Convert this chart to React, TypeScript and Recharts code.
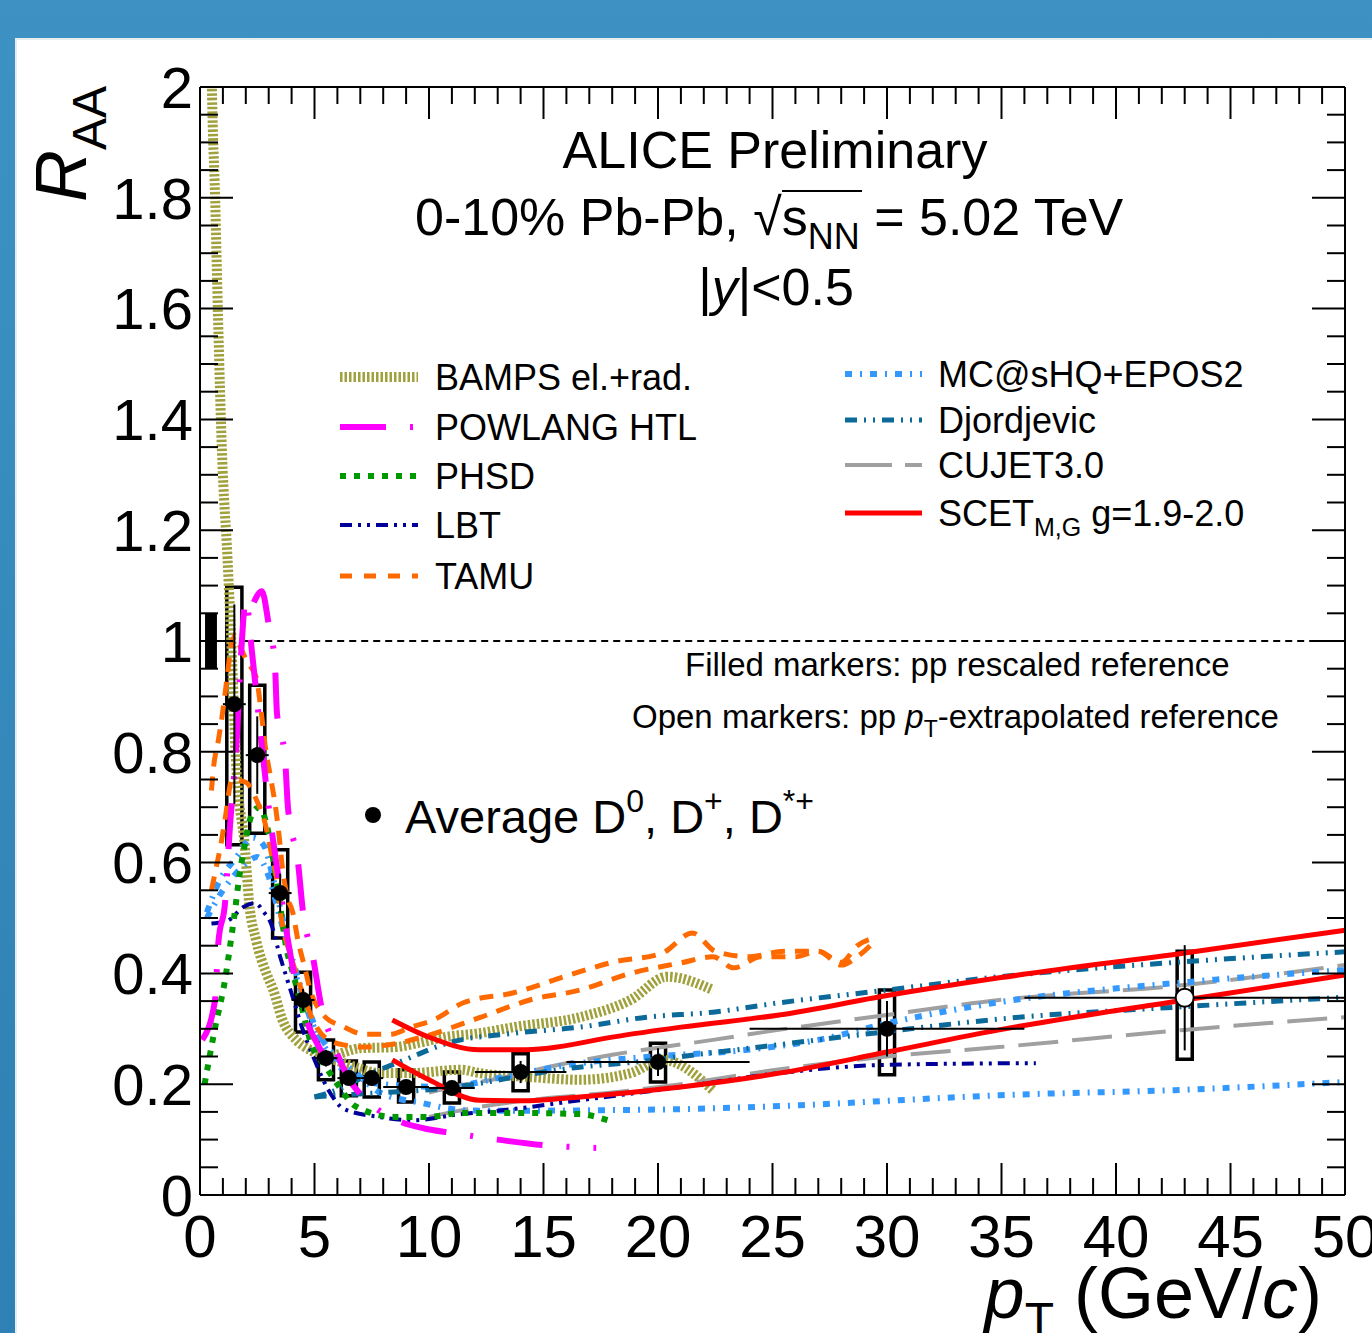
import React from 'react';
import {
  ComposedChart, Line, Scatter, XAxis, YAxis, ErrorBar, ReferenceArea, ReferenceLine,
} from 'recharts';

// pT (GeV/c) , R_AA pairs
type P = [number, number];

const bampsUpper: P[] = [[0.45, 2.2], [0.52, 2.0], [0.66, 1.8], [0.79, 1.58], [0.96, 1.34], [1.2, 1.15], [1.4, 0.966], [1.57, 0.785], [1.97, 0.623], [2.14, 0.53], [2.45, 0.46], [2.9, 0.4], [3.2, 0.37], [3.6, 0.316], [4.2, 0.28], [4.8, 0.262], [5.5, 0.25], [7, 0.265], [8.5, 0.267], [9.6, 0.275], [10.7, 0.285], [12.2, 0.292], [13.7, 0.303], [16.6, 0.321], [18.8, 0.352], [20.4, 0.394], [22.4, 0.37]];
const bampsLower: P[] = [[5.5, 0.25], [6.5, 0.235], [7.9, 0.22], [9.2, 0.22], [11.4, 0.226], [12.2, 0.22], [14.4, 0.213], [16.6, 0.208], [18.8, 0.22], [20.2, 0.244], [22.4, 0.189]];
const powlangA: P[] = [[0.1, 0.28], [0.65, 0.35], [0.8, 0.455], [1.1, 0.53], [1.3, 0.66], [1.6, 0.82], [1.8, 0.98], [2.0, 1.075], [2.27, 0.98], [2.6, 0.85], [3.0, 0.7], [3.4, 0.58], [3.8, 0.47], [4.2, 0.38], [4.7, 0.31], [5.3, 0.26], [6.0, 0.22]];
const powlangB: P[] = [[2.35, 1.07], [2.7, 1.09], [3.0, 1.03], [3.27, 0.96], [3.36, 0.87], [3.71, 0.79], [3.84, 0.7], [4.28, 0.6], [4.5, 0.51], [4.93, 0.43], [5.3, 0.34], [5.76, 0.28], [6.5, 0.21], [7.3, 0.17], [8.6, 0.135], [9.8, 0.12], [11, 0.112], [13, 0.1], [15, 0.09], [17.3, 0.085]];
const phsd: P[] = [[0.2, 0.2], [0.65, 0.3], [1.1, 0.39], [1.35, 0.46], [1.55, 0.52], [1.7, 0.57], [1.9, 0.62], [2.3, 0.69], [2.6, 0.7], [2.9, 0.67], [3.3, 0.58], [3.8, 0.44], [4.06, 0.4], [4.5, 0.33], [4.8, 0.28], [5.5, 0.231], [6.0, 0.2], [6.8, 0.16], [8.5, 0.141], [10, 0.141], [11.4, 0.148], [14, 0.148], [16.6, 0.146], [17.8, 0.135]];
const lbt: P[] = [[0.5, 0.49], [1.2, 0.495], [1.9, 0.52], [2.4, 0.527], [2.8, 0.51], [3.1, 0.49], [3.5, 0.43], [3.8, 0.39], [4.05, 0.357], [4.45, 0.303], [4.95, 0.249], [5.6, 0.19], [6.3, 0.155], [7.8, 0.141], [9.3, 0.135], [11.4, 0.146], [13, 0.152], [16.6, 0.171], [21, 0.195], [25.3, 0.22], [30, 0.235], [36.5, 0.238]];
const tamuUpper: P[] = [[0.5, 0.73], [0.6, 0.775], [0.8, 0.82], [1.0, 0.875], [1.2, 0.94], [1.35, 0.99], [1.55, 1.01], [1.75, 0.99], [2.1, 0.96], [2.45, 0.935], [2.65, 0.88], [2.85, 0.81], [3.1, 0.75], [3.3, 0.7], [3.45, 0.65], [3.6, 0.59], [3.8, 0.54], [4.05, 0.51], [4.3, 0.455], [4.55, 0.415], [4.85, 0.365], [5.2, 0.335], [5.5, 0.32], [6.2, 0.305], [7.2, 0.29], [8.3, 0.29], [9.2, 0.303], [10.2, 0.316], [11.5, 0.347], [13.7, 0.365], [15.9, 0.394], [18, 0.42], [20.2, 0.437], [21.5, 0.473], [22.5, 0.44], [24, 0.43], [25.5, 0.44], [27, 0.44], [28, 0.415], [28.7, 0.43], [29.5, 0.46]];
const tamuLower: P[] = [[0.5, 0.55], [0.7, 0.59], [0.9, 0.63], [1.1, 0.68], [1.4, 0.75], [2.0, 0.745], [2.5, 0.71], [2.85, 0.67], [3.1, 0.62], [3.35, 0.57], [3.55, 0.5], [3.9, 0.44], [4.2, 0.4], [4.6, 0.35], [5.0, 0.31], [5.6, 0.28], [6.4, 0.27], [7.1, 0.267], [8.4, 0.272], [9.7, 0.285], [12.2, 0.32], [14.4, 0.352], [16.6, 0.37], [18.8, 0.4], [21, 0.419], [22.4, 0.43], [23.3, 0.41], [24.5, 0.43], [26, 0.43], [27, 0.44], [28, 0.42], [28.7, 0.45], [29.5, 0.465]];
const mcshqUpper: P[] = [[0.3, 0.51], [0.8, 0.563], [1.6, 0.61], [2.3, 0.645], [2.8, 0.63], [3.2, 0.57], [3.6, 0.5], [4.0, 0.42], [4.4, 0.37], [4.9, 0.31], [5.4, 0.27], [6.0, 0.235], [6.8, 0.215], [7.9, 0.2], [10.8, 0.195], [13, 0.211], [16.6, 0.238], [19.5, 0.249], [23.9, 0.262], [27, 0.28], [30, 0.31], [34.9, 0.348], [43, 0.384], [50, 0.406]];
const mcshqLower: P[] = [[0.3, 0.5], [1.0, 0.55], [1.8, 0.59], [2.5, 0.61], [3.0, 0.575], [3.5, 0.5], [4.0, 0.43], [4.6, 0.35], [5.2, 0.29], [5.8, 0.255], [6.8, 0.22], [7.9, 0.184], [9.7, 0.166], [11.5, 0.153], [13, 0.152], [17.5, 0.153], [21, 0.155], [26.2, 0.162], [30, 0.17], [34.9, 0.18], [43, 0.19], [50, 0.204]];
const djordjevicUpper: P[] = [[5, 0.177], [6, 0.19], [7.5, 0.22], [9, 0.245], [10.8, 0.274], [13.7, 0.292], [16.6, 0.303], [19.5, 0.321], [22.4, 0.33], [25.3, 0.347], [30, 0.37], [34.9, 0.394], [43, 0.421], [50, 0.439]];
const djordjevicLower: P[] = [[5, 0.177], [6, 0.18], [8, 0.185], [10, 0.19], [12, 0.2], [14, 0.215], [16, 0.228], [19, 0.24], [22, 0.255], [25, 0.27], [30, 0.295], [35, 0.318], [43, 0.34], [50, 0.357]];
const cujetUpper: P[] = [[10, 0.185], [11, 0.195], [13, 0.21], [15.2, 0.231], [18, 0.253], [22.4, 0.28], [24.6, 0.294], [30, 0.325], [34.9, 0.352], [43, 0.379], [50, 0.415]];
const cujetLower: P[] = [[10, 0.141], [12.2, 0.159], [15.2, 0.175], [18, 0.185], [21, 0.2], [25, 0.225], [30, 0.25], [34.9, 0.267], [43, 0.298], [50, 0.321]];
const scetUpper: P[] = [[8.4, 0.316], [10, 0.285], [12.2, 0.262], [14, 0.262], [15.2, 0.265], [18, 0.285], [21, 0.303], [25.3, 0.325], [30, 0.36], [34.9, 0.392], [43, 0.437], [50, 0.478]];
const scetLower: P[] = [[8.4, 0.244], [10, 0.208], [12.2, 0.171], [14, 0.17], [16.6, 0.177], [21, 0.195], [25.3, 0.22], [30, 0.258], [34.9, 0.298], [43, 0.352], [50, 0.397]];

// average D-meson R_AA
const ptCenters = [1.5, 2.5, 3.5, 4.5, 5.5, 6.5, 7.5, 9, 11, 14, 20, 30, 43];
const ptHalfWidth = [0.5, 0.5, 0.5, 0.5, 0.5, 0.5, 0.5, 1, 1, 2, 4, 6, 7];
const raaValues = [0.886, 0.794, 0.545, 0.352, 0.247, 0.211, 0.211, 0.195, 0.193, 0.222, 0.24, 0.3, 0.356];
const statErr = [0.18, 0.07, 0.035, 0.02, 0.015, 0.012, 0.012, 0.012, 0.012, 0.02, 0.025, 0.05, 0.095];
const sysLow = [0.632, 0.653, 0.464, 0.294, 0.208, 0.179, 0.177, 0.168, 0.166, 0.188, 0.204, 0.217, 0.245];
const sysHigh = [1.097, 0.92, 0.623, 0.402, 0.28, 0.242, 0.24, 0.226, 0.222, 0.255, 0.274, 0.37, 0.44];
const openMarker = [false, false, false, false, false, false, false, false, false, false, false, false, true];

const xMajorLabels = [0, 5, 10, 15, 20, 25, 30, 35, 40, 45, 50];
const yMajorLabels = ['0', '0.2', '0.4', '0.6', '0.8', '1', '1.2', '1.4', '1.6', '1.8', '2'];

const FONT = '"Liberation Sans", Arial, Helvetica, sans-serif';
const OLIVE = '#a0a03c';

const toRows = (pts: P[]) => pts.map(([x, y]) => ({ x, y }));

const models = [
  { id: 'bampsU', pts: bampsUpper, color: OLIVE, w: 10, dash: '2.5 2' },
  { id: 'bampsL', pts: bampsLower, color: OLIVE, w: 10, dash: '2.5 2' },
  { id: 'cujetU', pts: cujetUpper, color: '#a0a0a0', w: 4, dash: '40 14' },
  { id: 'cujetL', pts: cujetLower, color: '#a0a0a0', w: 4, dash: '40 14' },
  { id: 'mcU', pts: mcshqUpper, color: '#3399ff', w: 6, dash: '7 8 2 8' },
  { id: 'mcL', pts: mcshqLower, color: '#3399ff', w: 6, dash: '7 8 2 8' },
  { id: 'djU', pts: djordjevicUpper, color: '#0b6a9a', w: 5, dash: '12 7 2 7 2 7' },
  { id: 'djL', pts: djordjevicLower, color: '#0b6a9a', w: 5, dash: '12 7 2 7 2 7' },
  { id: 'lbt', pts: lbt, color: '#000099', w: 4, dash: '12 6 3 6 3 6' },
  { id: 'phsd', pts: phsd, color: '#009900', w: 6, dash: '6 8' },
  { id: 'tamuU', pts: tamuUpper, color: '#ff6a00', w: 5, dash: '14 10' },
  { id: 'tamuL', pts: tamuLower, color: '#ff6a00', w: 5, dash: '14 10' },
  { id: 'powA', pts: powlangA, color: '#ff00ff', w: 6, dash: '46 24 3 24' },
  { id: 'powB', pts: powlangB, color: '#ff00ff', w: 6, dash: '46 24 3 24' },
  { id: 'scetU', pts: scetUpper, color: '#ff0000', w: 5, dash: undefined },
  { id: 'scetL', pts: scetLower, color: '#ff0000', w: 5, dash: undefined },
];

const points = ptCenters.map((x, i) => ({ x, y: raaValues[i], ex: ptHalfWidth[i], ey: statErr[i] }));
const filledPts = points.filter((_, i) => !openMarker[i]);
const openPts = points.filter((_, i) => openMarker[i]);

const xTickValues = Array.from({ length: 51 }, (_, i) => i);
const yTickValues = Array.from({ length: 41 }, (_, i) => Math.round(i * 5) / 100);
const isMajorY = (v: number) => Math.round(v * 100) % 20 === 0;

const BottomTick = ({ x, y, payload }: any) => {
  const v = payload.value;
  const major = v % 5 === 0;
  return (
    <g>
      <line x1={x} x2={x} y1={y} y2={y - (major ? 32 : 17)} stroke="#000" strokeWidth={2} />
      {major && xMajorLabels.includes(v) && (
        <text x={x} y={y + 62} textAnchor="middle" fontSize={60} fontFamily={FONT} fill="#000">{v}</text>
      )}
    </g>
  );
};
const TopTick = ({ x, y, payload }: any) => (
  <line x1={x} x2={x} y1={y} y2={y + (payload.value % 5 === 0 ? 32 : 17)} stroke="#000" strokeWidth={2} />
);
const LeftTick = ({ x, y, payload }: any) => {
  const v = payload.value;
  const major = isMajorY(v);
  return (
    <g>
      <line x1={x} x2={x + (major ? 33 : 18)} y1={y} y2={y} stroke="#000" strokeWidth={2} />
      {major && (
        <text x={x - 7} y={y} dy="0.36em" textAnchor="end" fontSize={58} fontFamily={FONT} fill="#000">
          {yMajorLabels[Math.round(v * 5)]}
        </text>
      )}
    </g>
  );
};
const RightTick = ({ x, y, payload }: any) => (
  <line x1={x} x2={x - (isMajorY(payload.value) ? 33 : 18)} y1={y} y2={y} stroke="#000" strokeWidth={2} />
);

const legendLeft = [
  { label: 'BAMPS el.+rad.', color: OLIVE, w: 10, dash: '2.5 2', y: 377 },
  { label: 'POWLANG HTL', color: '#ff00ff', w: 6, dash: '46 24 3 24', y: 427 },
  { label: 'PHSD', color: '#009900', w: 6, dash: '6 8', y: 476 },
  { label: 'LBT', color: '#000099', w: 4, dash: '12 6 3 6 3 6', y: 525 },
  { label: 'TAMU', color: '#ff6a00', w: 5, dash: '12 12', y: 576 },
];
const legendRight = [
  { label: 'MC@sHQ+EPOS2', color: '#3399ff', w: 6, dash: '7 8 2 8', y: 374 },
  { label: 'Djordjevic', color: '#0b6a9a', w: 5, dash: '12 7 2 7 2 7', y: 420 },
  { label: 'CUJET3.0', color: '#a0a0a0', w: 4, dash: '47 13 17', y: 465 },
  { label: 'SCET', color: '#ff0000', w: 5, dash: undefined, y: 513 },
];

function Overlay() {
  return (
    <svg width={1372} height={1333} style={{ position: 'absolute', left: 0, top: 0, pointerEvents: 'none' }} fontFamily={FONT}>
      <text x={775} y={168} textAnchor="middle" fontSize={52}>ALICE Preliminary</text>
      <text x={415} y={235} fontSize={52}>
        0-10% Pb-Pb, √s<tspan fontSize={36} dy={14}>NN</tspan><tspan dy={-14}> = 5.02 TeV</tspan>
      </text>
      <line x1={782} x2={862} y1={191} y2={191} stroke="#000" strokeWidth={2} />
      <text x={776} y={305} textAnchor="middle" fontSize={52}>|<tspan fontStyle="italic">y</tspan>|&lt;0.5</text>

      {legendLeft.map((e) => (
        <g key={e.label}>
          <line x1={340} x2={418} y1={e.y} y2={e.y} stroke={e.color} strokeWidth={e.w} strokeDasharray={e.dash} />
          <text x={435} y={e.y + 13} fontSize={36}>{e.label}</text>
        </g>
      ))}
      {legendRight.map((e) => (
        <g key={e.label}>
          <line x1={845} x2={922} y1={e.y} y2={e.y} stroke={e.color} strokeWidth={e.w} strokeDasharray={e.dash} />
          <text x={938} y={e.y + 13} fontSize={36}>
            {e.label}
            {e.label === 'SCET' && (
              <>
                <tspan fontSize={25} dy={10}>M,G</tspan>
                <tspan dy={-10}> g=1.9-2.0</tspan>
              </>
            )}
          </text>
        </g>
      ))}

      <text x={685} y={676} fontSize={33}>Filled markers: pp rescaled reference</text>
      <text x={632} y={728} fontSize={33}>
        Open markers: pp <tspan fontStyle="italic">p</tspan><tspan fontSize={23} dy={9}>T</tspan><tspan dy={-9}>-extrapolated reference</tspan>
      </text>

      <circle cx={373} cy={815} r={8} fill="#000" />
      <text x={405} y={833} fontSize={47}>
        Average D<tspan fontSize={32} dy={-21}>0</tspan><tspan dy={21}>, D</tspan><tspan fontSize={32} dy={-21}>+</tspan><tspan dy={21}>, D</tspan><tspan fontSize={32} dy={-21}>*+</tspan>
      </text>

      <text transform="translate(86,202) rotate(-90)" fontSize={72}>
        <tspan fontStyle="italic">R</tspan><tspan fontSize={48} dy={20}>AA</tspan>
      </text>
      <text x={1322} y={1318} textAnchor="end" fontSize={72}>
        <tspan fontStyle="italic">p</tspan><tspan fontSize={48} dy={18}>T</tspan><tspan dy={-18}> (GeV/</tspan><tspan fontStyle="italic">c</tspan>)
      </text>
    </svg>
  );
}

const axisLine = { stroke: '#000', strokeWidth: 2 };

export default function App() {
  return (
    <div style={{ position: 'absolute', left: 0, top: 0, width: 1372, height: 1333, overflow: 'hidden', background: 'linear-gradient(180deg, #3d92c3 0%, #2f80b4 100%)' }}>
      <div style={{ position: 'absolute', left: 15, top: 38, right: 0, bottom: 0, background: '#fff', borderLeft: '2px solid #e4eeee', borderTop: '2px solid #e4eeee' }} />
      <div style={{ position: 'absolute', left: 0, top: 0 }}>
        <ComposedChart width={1372} height={1333} margin={{ top: 86, right: 26, bottom: 0, left: 199 }}>
          <XAxis xAxisId={0} type="number" dataKey="x" domain={[0, 50]} allowDataOverflow ticks={xTickValues} interval={0}
            height={138} tickSize={0} tickMargin={0} tickLine={false} axisLine={axisLine} tick={<BottomTick />} />
          <XAxis xAxisId="top" orientation="top" type="number" dataKey="x" domain={[0, 50]} allowDataOverflow ticks={xTickValues} interval={0}
            height={1} tickSize={0} tickMargin={0} tickLine={false} axisLine={axisLine} tick={<TopTick />} />
          <YAxis yAxisId={0} type="number" domain={[0, 2]} allowDataOverflow ticks={yTickValues} interval={0}
            width={1} tickSize={0} tickMargin={0} tickLine={false} axisLine={axisLine} tick={<LeftTick />} />
          <YAxis yAxisId="right" orientation="right" type="number" domain={[0, 2]} allowDataOverflow ticks={yTickValues} interval={0}
            width={1} tickSize={0} tickMargin={0} tickLine={false} axisLine={axisLine} tick={<RightTick />} />

          {/* invisible series so the mirrored frame axes have an item bound to them */}
          <Line xAxisId="top" yAxisId="right" data={toRows(scetUpper)} dataKey="y" stroke="none" dot={false}
            activeDot={false} isAnimationActive={false} legendType="none" />

          <ReferenceLine segment={[{ x: 1.8, y: 1 }, { x: 50, y: 1 }]} stroke="#000" strokeWidth={2} strokeDasharray="7 5" />
          <ReferenceArea x1={0.22} x2={0.74} y1={0.951} y2={1.05} fill="#000" fillOpacity={1} stroke="none" />

          {models.map((m) => (
            <Line key={m.id} data={toRows(m.pts)} dataKey="y" type="monotone" stroke={m.color} strokeWidth={m.w}
              strokeDasharray={m.dash} dot={false} activeDot={false} isAnimationActive={false} legendType="none" />
          ))}

          {ptCenters.map((x, i) => (
            <ReferenceArea key={'sys' + x} x1={x - 0.33} x2={x + 0.33} y1={sysLow[i]} y2={sysHigh[i]}
              fill="none" fillOpacity={0} stroke="#000" strokeWidth={3.5} />
          ))}

          <Scatter data={filledPts} dataKey="y" isAnimationActive={false}
            shape={(p: any) => <circle cx={p.cx} cy={p.cy} r={8} fill="#000" />}>
            <ErrorBar dataKey="ey" direction="y" width={0} stroke="#000" strokeWidth={2} />
            <ErrorBar dataKey="ex" direction="x" width={0} stroke="#000" strokeWidth={2} />
          </Scatter>
          <Scatter data={openPts} dataKey="y" isAnimationActive={false}
            shape={(p: any) => <circle cx={p.cx} cy={p.cy} r={9} fill="#fff" stroke="#000" strokeWidth={2} />}>
            <ErrorBar dataKey="ey" direction="y" width={0} stroke="#000" strokeWidth={2} />
            <ErrorBar dataKey="ex" direction="x" width={0} stroke="#000" strokeWidth={2} />
          </Scatter>
        </ComposedChart>
      </div>
      <Overlay />
    </div>
  );
}
